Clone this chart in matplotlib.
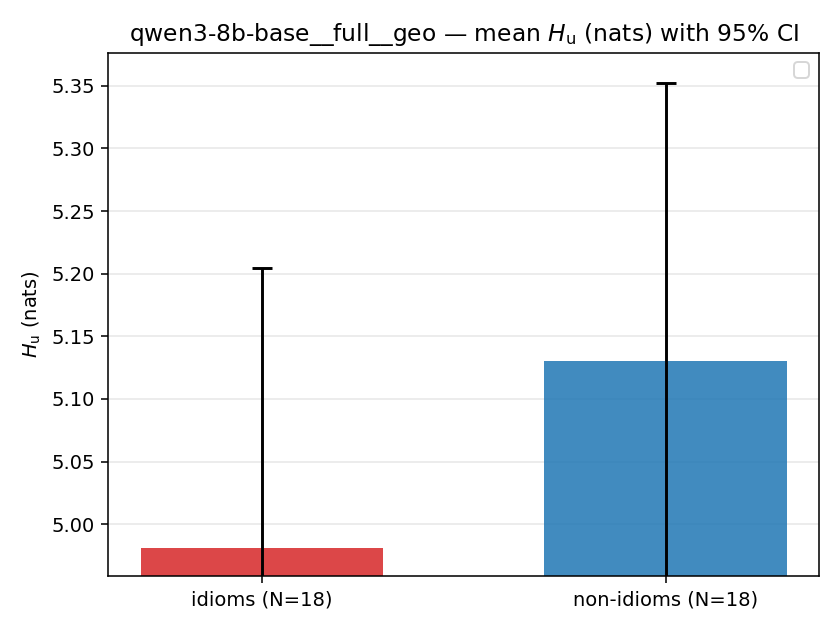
import numpy as np
import matplotlib
matplotlib.use("Agg")
import matplotlib.pyplot as plt

# mean entropy per group and 95% CI half-width
labels = ["idioms (N=18)", "non-idioms (N=18)"]
means = [4.9808, 5.1305]
ci_half = [0.2234, 0.2219]
colors = ["#d62728", "#1f77b4"]

fig, ax = plt.subplots(figsize=(6, 4.5), dpi=140)
x = np.arange(len(labels))
ax.bar(x, means, width=0.6, color=colors, alpha=0.85,
       yerr=ci_half, capsize=5,
       error_kw=dict(ecolor="black", elinewidth=1.5, capthick=1.5))
ax.set_xticks(x)
ax.set_xticklabels(labels)
ax.set_ylim(4.9584, 5.3764)
ax.set_ylabel(r"$H_\mathrm{u}$ (nats)")
ax.set_title(r"qwen3-8b-base__full__geo — mean $H_\mathrm{u}$ (nats) with 95% CI")
ax.grid(axis="y", alpha=0.3)
ax.set_axisbelow(True)
ax.legend(handles=[], loc="upper right")
fig.tight_layout()
fig.savefig("out.png", dpi=140)
